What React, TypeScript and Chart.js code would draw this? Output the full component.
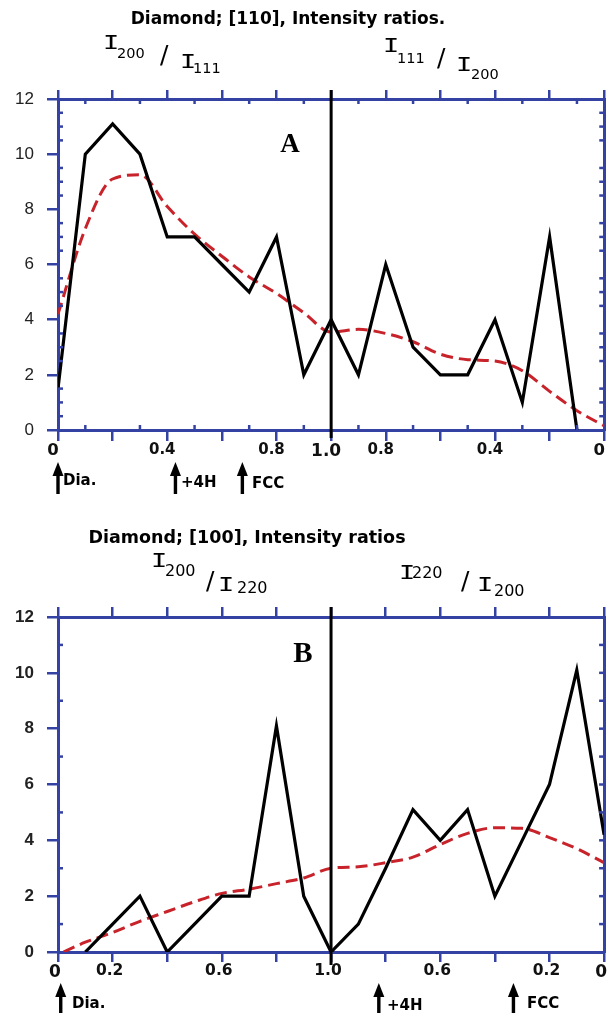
import React, { useEffect, useRef } from "react";
import { Chart, registerables } from "chart.js";

Chart.register(...registerables);

// ---------------- data ----------------
// Position along the mirrored ratio axis: 0 -> 1.0 (left half), 1.0 -> 0 (right half) mapped to 0..2
const positionsA = [0, 0.1, 0.2, 0.3, 0.4, 0.5, 0.6, 0.7, 0.8, 0.9, 1.0, 1.1, 1.2, 1.3, 1.4, 1.5, 1.6, 1.7, 1.8, 1.9];
const countsA = [1.5, 10, 11.1, 10, 7, 7, 6, 5, 7, 2, 4, 2, 6, 3, 2, 2, 4, 1, 7, 0];
const fitPositionsA = [0, 0.1, 0.2, 0.3, 0.4, 0.5, 0.6, 0.7, 0.8, 0.9, 1.0, 1.1, 1.2, 1.3, 1.4, 1.5, 1.6, 1.7, 1.8, 1.9, 2.0];
const fitA = [4.2, 7.3, 9.1, 9.25, 8.1, 7.1, 6.3, 5.55, 4.95, 4.25, 3.55, 3.65, 3.5, 3.2, 2.75, 2.55, 2.5, 2.15, 1.4, 0.7, 0.15];

const positionsB = [0.1, 0.2, 0.3, 0.4, 0.5, 0.6, 0.7, 0.8, 0.9, 1.0, 1.1, 1.2, 1.3, 1.4, 1.5, 1.6, 1.7, 1.8, 1.9, 2.0];
const countsB = [0, 1, 2, 0, 1, 2, 2, 8.1, 2, 0, 1, 3, 5.1, 4, 5.1, 2, 4, 6, 10.1, 4.2];
const fitPositionsB = [0.02, 0.1, 0.2, 0.3, 0.4, 0.5, 0.6, 0.7, 0.8, 0.9, 1.0, 1.1, 1.2, 1.3, 1.4, 1.5, 1.6, 1.7, 1.8, 1.9, 2.0];
const fitB = [0, 0.35, 0.7, 1.1, 1.45, 1.8, 2.1, 2.25, 2.45, 2.65, 3.0, 3.05, 3.2, 3.4, 3.85, 4.25, 4.45, 4.43, 4.1, 3.7, 3.2];

// ticks
const majorX = [0, 0.2, 0.4, 0.6, 0.8, 1.0, 1.2, 1.4, 1.6, 1.8, 2.0];
const majorY = [0, 2, 4, 6, 8, 10, 12];
const labelValuesA = [0, 0.4, 0.8, 1.0, 1.2, 1.6, 2.0];
const labelTextA = ["0", "0.4", "0.8", "1.0", "0.8", "0.4", "0"];
const labelValuesB = [0, 0.2, 0.6, 1.0, 1.4, 1.8, 2.0];
const labelTextB = ["0", "0.2", "0.6", "1.0", "0.6", "0.2", "0"];
const minorXA = [0.1, 0.3, 0.5, 0.7, 0.9, 1.1, 1.3, 1.5, 1.7, 1.9];
const minorYA = [0.5, 1, 1.5, 2.5, 3, 3.5, 4.5, 5, 5.5, 6.5, 7, 7.5, 8.5, 9, 9.5, 10.5, 11, 11.5];
const minorYBLeft = [1, 3, 5, 7, 9, 11];
const minorYBRight = [1, 2, 3, 4, 5, 6, 7, 8, 9, 10, 11];

// structure markers (arrows)
const arrowsA = [0, 0.43, 0.675];
const arrowsB = [0.01, 1.175, 1.668];

// ---------------- style ----------------
const BLUE = "#3443a3";
const RED = "#c8232b";
const DJ = "'DejaVu Sans', sans-serif";
const LIB = "'Liberation Sans', Arial, sans-serif";
const MONO = "'DejaVu Sans Mono', monospace";
const SERIF = "'Liberation Serif', 'Times New Roman', serif";

type Spec = {
  offset: number;
  height: number;
  top: number;
  bottom: number;
  right: number;
  pos: number[];
  counts: number[];
  fitPos: number[];
  fit: number[];
  labelValues: number[];
  labelText: string[];
  labelSizes: (t: string) => number;
  labelOffset: number;
  xPad: number;
  bottomTick: number;
  topTick: number;
  yWeight: string;
  minorX: number[];
  minorYLeft: number[];
  minorYRight: number[];
  divTop: number;
  divBottom: number;
  arrows: number[];
  arrowTop: number;
  arrowBottom: number;
};

function labelFor(spec: Spec, v: number) {
  const i = spec.labelValues.findIndex((x) => Math.abs(x - v) < 1e-6);
  return i >= 0 ? spec.labelText[i] : "";
}

function decor(spec: Spec) {
  return {
    id: "decor",
    afterDraw(chart: any) {
      const ctx = chart.ctx;
      const xs = chart.scales.x;
      const ys = chart.scales.y;
      const { top, bottom, left, right } = chart.chartArea;
      const line = (x1: number, y1: number, x2: number, y2: number) => {
        ctx.beginPath();
        ctx.moveTo(x1, y1);
        ctx.lineTo(x2, y2);
        ctx.stroke();
      };
      ctx.save();
      ctx.strokeStyle = BLUE;
      ctx.lineWidth = 2.5;
      for (const v of spec.minorX) {
        const px = xs.getPixelForValue(v);
        line(px, bottom, px, bottom - 5);
        line(px, top, px, top + 5);
      }
      for (const v of spec.minorYLeft) {
        const py = ys.getPixelForValue(v);
        line(left, py, left + 5, py);
      }
      for (const v of spec.minorYRight) {
        const py = ys.getPixelForValue(v);
        line(right, py, right - 5, py);
      }
      // divider at ratio 1.0
      ctx.strokeStyle = "#000";
      ctx.lineWidth = 3;
      const cx = xs.getPixelForValue(1);
      line(cx, top - spec.divTop, cx, bottom + spec.divBottom);
      // arrows
      ctx.fillStyle = "#000";
      for (const v of spec.arrows) {
        const px = xs.getPixelForValue(v);
        ctx.fillRect(px - 1.7, spec.arrowTop + 10, 3.4, spec.arrowBottom - spec.arrowTop - 10);
        ctx.beginPath();
        ctx.moveTo(px, spec.arrowTop);
        ctx.lineTo(px - 5.5, spec.arrowTop + 14);
        ctx.lineTo(px + 5.5, spec.arrowTop + 14);
        ctx.closePath();
        ctx.fill();
      }
      ctx.restore();
    },
  };
}

function buildConfig(spec: Spec): any {
  const border = { display: true, color: BLUE, width: 3 };
  return {
    type: "line",
    data: {
      datasets: [
        {
          label: "measured",
          data: spec.pos.map((x, i) => ({ x, y: spec.counts[i] })),
          borderColor: "#000",
          borderWidth: 3.2,
          pointRadius: 0,
          tension: 0,
          order: 0,
        },
        {
          label: "fit",
          data: spec.fitPos.map((x, i) => ({ x, y: spec.fit[i] })),
          borderColor: RED,
          borderWidth: 3,
          borderDash: [12, 6],
          pointRadius: 0,
          cubicInterpolationMode: "monotone",
          order: 1,
        },
      ],
    },
    options: {
      responsive: false,
      maintainAspectRatio: false,
      animation: false,
      devicePixelRatio: 1,
      layout: { padding: 0, autoPadding: false },
      plugins: { legend: { display: false }, tooltip: { enabled: false }, title: { display: false } },
      scales: {
        x: {
          type: "linear",
          position: "bottom",
          min: 0,
          max: 2,
          afterBuildTicks: (s: any) => {
            s.ticks = majorX.map((value) => ({ value }));
          },
          afterFit: (s: any) => {
            s.height = spec.height - spec.bottom;
          },
          border,
          grid: { display: true, drawOnChartArea: false, drawTicks: true, tickLength: spec.bottomTick, color: BLUE, lineWidth: 2.5 },
          ticks: {
            autoSkip: false,
            maxRotation: 0,
            minRotation: 0,
            padding: spec.xPad,
            labelOffset: spec.labelOffset,
            color: "#111",
            callback: (v: number) => labelFor(spec, v),
            font: (c: any) => {
              const t = labelFor(spec, c.tick ? c.tick.value : 0);
              return { family: DJ, weight: "bold", size: spec.labelSizes(t) };
            },
          },
        },
        x2: {
          type: "linear",
          position: "top",
          min: 0,
          max: 2,
          afterBuildTicks: (s: any) => {
            s.ticks = majorX.map((value) => ({ value }));
          },
          afterFit: (s: any) => {
            s.height = spec.top;
          },
          border,
          grid: { display: true, drawOnChartArea: false, drawTicks: true, tickLength: spec.topTick, color: BLUE, lineWidth: 2.5 },
          ticks: { display: false },
        },
        y: {
          type: "linear",
          position: "left",
          min: 0,
          max: 12,
          afterBuildTicks: (s: any) => {
            s.ticks = majorY.map((value) => ({ value }));
          },
          afterFit: (s: any) => {
            s.width = 58;
          },
          border,
          grid: { display: true, drawOnChartArea: false, drawTicks: true, tickLength: 11, color: BLUE, lineWidth: 2.5 },
          ticks: {
            padding: 13,
            color: "#222",
            font: { family: LIB, size: 17, weight: spec.yWeight },
            callback: (v: number) => String(v),
          },
        },
        y2: {
          type: "linear",
          position: "right",
          min: 0,
          max: 12,
          afterBuildTicks: (s: any) => {
            s.ticks = majorY.map((value) => ({ value }));
          },
          afterFit: (s: any) => {
            s.width = 610 - spec.right;
          },
          border,
          grid: { display: true, drawOnChartArea: false, drawTicks: false },
          ticks: { display: false },
        },
      },
    },
    plugins: [decor(spec)],
  };
}

const specA: Spec = {
  offset: 0,
  height: 500,
  top: 99,
  bottom: 430,
  right: 607,
  pos: positionsA,
  counts: countsA,
  fitPos: fitPositionsA,
  fit: fitA,
  labelValues: labelValuesA,
  labelText: labelTextA,
  labelSizes: (t) => (t === "1.0" ? 17 : t === "0" ? 16.5 : 15),
  labelOffset: -5,
  xPad: 0,
  bottomTick: 11,
  topTick: 9,
  yWeight: "normal",
  minorX: minorXA,
  minorYLeft: minorYA,
  minorYRight: minorYA,
  divTop: 9,
  divBottom: 8,
  arrows: arrowsA,
  arrowTop: 462,
  arrowBottom: 494,
};

const specB: Spec = {
  offset: 500,
  height: 513,
  top: 117,
  bottom: 452,
  right: 606,
  pos: positionsB,
  counts: countsB,
  fitPos: fitPositionsB,
  fit: fitB,
  labelValues: labelValuesB,
  labelText: labelTextB,
  labelSizes: (t) => (t === "0" ? 17 : 15.5),
  labelOffset: -3,
  xPad: 0,
  bottomTick: 10,
  topTick: 10,
  yWeight: "bold",
  minorX: [],
  minorYLeft: minorYBLeft,
  minorYRight: minorYBRight,
  divTop: 10,
  divBottom: 13,
  arrows: arrowsB,
  arrowTop: 483,
  arrowBottom: 513,
};

function Panel({ spec }: { spec: Spec }) {
  const ref = useRef<HTMLCanvasElement | null>(null);
  useEffect(() => {
    if (!ref.current) return;
    const chart = new Chart(ref.current, buildConfig(spec));
    return () => chart.destroy();
  }, [spec]);
  return (
    <canvas
      ref={ref}
      width={610}
      height={spec.height}
      style={{ position: "absolute", left: 0, top: spec.offset, width: 610, height: spec.height, display: "block" }}
    />
  );
}

type TProps = {
  x: number;
  y: number;
  size: number;
  family?: string;
  weight?: string;
  sx?: number;
  center?: boolean;
  children: React.ReactNode;
};

function T({ x, y, size, family = DJ, weight = "normal", sx = 1, center = false, children }: TProps) {
  return (
    <div
      style={{
        position: "absolute",
        left: x,
        top: y,
        transform: `translate(${center ? "-50%" : "0"}, -50%) scaleX(${sx})`,
        transformOrigin: center ? "center center" : "left center",
        fontFamily: family,
        fontWeight: weight as any,
        fontSize: size,
        lineHeight: 1,
        whiteSpace: "nowrap",
        color: "#000",
      }}
    >
      {children}
    </div>
  );
}

export default function App() {
  return (
    <div style={{ position: "absolute", left: 0, top: 0, width: 610, height: 1013, background: "#fff", overflow: "hidden" }}>
      <Panel spec={specA} />
      <Panel spec={specB} />

      {/* Panel A texts */}
      <T x={288} y={18} size={17} weight="bold" center>Diamond; [110], Intensity ratios.</T>
      <T x={103} y={42} size={20} family={MONO} sx={1.35}>I</T>
      <T x={117} y={53} size={14.5}>200</T>
      <T x={160} y={54} size={25}>/</T>
      <T x={180} y={61} size={20} family={MONO} sx={1.35}>I</T>
      <T x={193} y={68} size={14.5}>111</T>
      <T x={383} y={45} size={20} family={MONO} sx={1.35}>I</T>
      <T x={397} y={58} size={14.5}>111</T>
      <T x={437} y={57} size={25}>/</T>
      <T x={456} y={64} size={20} family={MONO} sx={1.35}>I</T>
      <T x={471} y={74} size={14.5}>200</T>
      <T x={290} y={143} size={27} family={SERIF} weight="bold" center>A</T>
      <T x={63} y={480} size={15} weight="bold">Dia.</T>
      <T x={181} y={482} size={15} weight="bold">+4H</T>
      <T x={252} y={483} size={15} weight="bold">FCC</T>

      {/* Panel B texts */}
      <T x={247} y={538} size={17.5} weight="bold" center>Diamond; [100], Intensity ratios</T>
      <T x={151} y={560} size={20} family={MONO} sx={1.35}>I</T>
      <T x={165} y={571} size={16}>200</T>
      <T x={206} y={580} size={25}>/</T>
      <T x={218} y={584} size={20} family={MONO} sx={1.35}>I</T>
      <T x={237} y={588} size={16}>220</T>
      <T x={399} y={572} size={20} family={MONO} sx={1.35}>I</T>
      <T x={412} y={573} size={16}>220</T>
      <T x={461} y={580} size={25}>/</T>
      <T x={477} y={584} size={20} family={MONO} sx={1.35}>I</T>
      <T x={494} y={591} size={16}>200</T>
      <T x={303} y={652} size={29} family={SERIF} weight="bold" center>B</T>
      <T x={72} y={1003} size={15} weight="bold">Dia.</T>
      <T x={387} y={1005} size={15} weight="bold">+4H</T>
      <T x={527} y={1003} size={15} weight="bold">FCC</T>
    </div>
  );
}
